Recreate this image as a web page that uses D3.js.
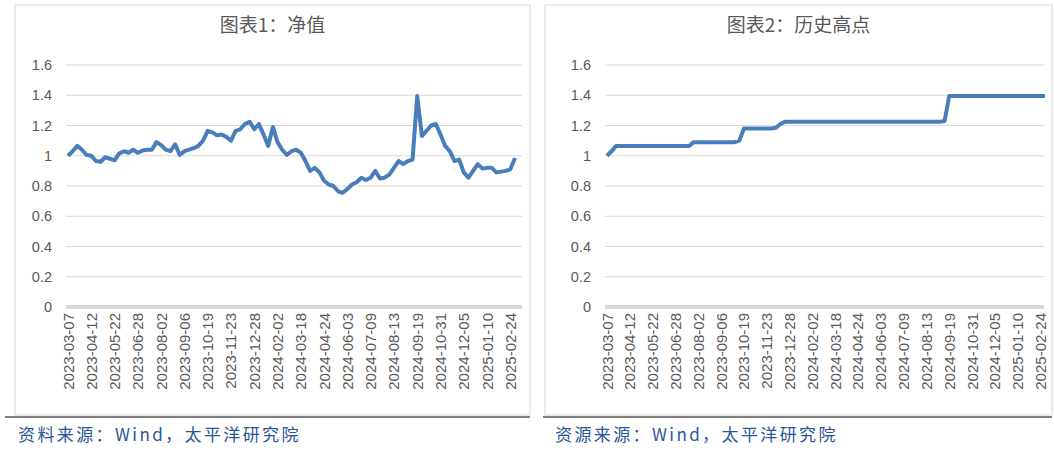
<!DOCTYPE html><html><head><meta charset="utf-8"><script src="https://cdn.jsdelivr.net/npm/d3@7"></script>
<style>body{margin:0;background:#fff}</style></head><body><svg id="c" width="1054" height="450"></svg><script>
const tickLabels=["2023-03-07","2023-04-12","2023-05-22","2023-06-28","2023-08-02","2023-09-06","2023-10-19","2023-11-23","2023-12-28","2024-02-02","2024-03-18","2024-04-24","2024-06-03","2024-07-09","2024-08-13","2024-09-19","2024-10-31","2024-12-05","2025-01-10","2025-02-24"];
const nav=[1.0,1.03,1.065,1.04,1.005,1.0,0.965,0.96,0.99,0.98,0.97,1.015,1.03,1.02,1.04,1.02,1.035,1.04,1.04,1.09,1.07,1.04,1.03,1.075,1.005,1.03,1.04,1.05,1.065,1.1,1.165,1.155,1.135,1.14,1.125,1.1,1.165,1.175,1.21,1.225,1.175,1.21,1.14,1.065,1.19,1.09,1.04,1.005,1.03,1.04,1.02,0.965,0.9,0.92,0.89,0.835,0.81,0.8,0.765,0.755,0.78,0.81,0.825,0.855,0.84,0.855,0.9,0.85,0.855,0.875,0.92,0.965,0.945,0.965,0.975,1.395,1.13,1.165,1.2,1.21,1.14,1.065,1.03,0.965,0.975,0.89,0.855,0.9,0.945,0.915,0.92,0.92,0.89,0.895,0.9,0.91,0.985];
const high=[1.0,1.03,1.065,1.065,1.065,1.065,1.065,1.065,1.065,1.065,1.065,1.065,1.065,1.065,1.065,1.065,1.065,1.065,1.065,1.09,1.09,1.09,1.09,1.09,1.09,1.09,1.09,1.09,1.09,1.1,1.18,1.18,1.18,1.18,1.18,1.18,1.18,1.185,1.21,1.225,1.225,1.225,1.225,1.225,1.225,1.225,1.225,1.225,1.225,1.225,1.225,1.225,1.225,1.225,1.225,1.225,1.225,1.225,1.225,1.225,1.225,1.225,1.225,1.225,1.225,1.225,1.225,1.225,1.225,1.225,1.225,1.225,1.225,1.225,1.23,1.395,1.395,1.395,1.395,1.395,1.395,1.395,1.395,1.395,1.395,1.395,1.395,1.395,1.395,1.395,1.395,1.395,1.395,1.395,1.395,1.395,1.395];
const yTicks=[0,0.2,0.4,0.6,0.8,1,1.2,1.4,1.6];
const titles=["图表1：净值","图表2：历史高点"];
const sources=["资料来源：Wind，太平洋研究院","资源来源：Wind，太平洋研究院"];
const svg=d3.select("#c");
const panels=[{x0:15,x1:530,px0:68,px1:515,data:nav,title:titles[0],src:sources[0],sx:18,l0:5},
 {x0:545,x1:1052,px0:607,px1:1045,data:high,title:titles[1],src:sources[1],sx:555,l0:543}];
const y=d3.scaleLinear().domain([0,1.6]).range([307,65]);
panels.forEach(p=>{
 const g=svg.append("g");
 g.append("rect").attr("x",p.x0).attr("y",5).attr("width",p.x1-p.x0).attr("height",410).attr("fill","#fff").attr("stroke","#d9d9d9");
 g.append("text").attr("x",(p.x0+p.x1)/2).attr("y",32).attr("text-anchor","middle").attr("font-family","Noto Sans CJK SC").attr("font-size",19).attr("fill","#595959").text(p.title);
 const n=p.data.length;
 const x=d3.scaleLinear().domain([0,n-1]).range([p.px0,p.px1]);
 yTicks.forEach(t=>{ if(t>0) g.append("line").attr("x1",p.px0-2).attr("x2",p.x1-8).attr("y1",y(t)).attr("y2",y(t)).attr("stroke","#d9d9d9").attr("stroke-width",1);
   g.append("text").attr("x",p.px0-16).attr("y",y(t)+5).attr("text-anchor","end").attr("font-family","Liberation Sans").attr("font-size",14.5).attr("fill","#595959").text(t);});
 g.append("line").attr("x1",p.px0-2).attr("x2",p.x1-8).attr("y1",y(0)).attr("y2",y(0)).attr("stroke","#d9d9d9").attr("stroke-width",4);
 tickLabels.forEach((l,i)=>{const xi=x(i*5);
   g.append("text").attr("transform",`translate(${xi+5.5},313) rotate(-90)`).attr("text-anchor","end").attr("font-family","Liberation Sans").attr("font-size",15).attr("fill","#595959").text(l);});
 g.append("path").datum(p.data).attr("fill","none").attr("stroke","#4a7ebb").attr("stroke-width",4).attr("stroke-linejoin","round")
  .attr("d",d3.line().x((d,i)=>x(i)).y(d=>y(d)));
 g.append("line").attr("x1",p.l0).attr("x2",p.x1).attr("y1",417).attr("y2",417).attr("stroke","#000").attr("stroke-width",1.2);
 g.append("text").attr("x",p.sx).attr("y",441).attr("font-family","Noto Sans CJK SC").attr("font-size",17).attr("letter-spacing",2.4).attr("fill","#2a5699").text(p.src);
});
</script></body></html>
